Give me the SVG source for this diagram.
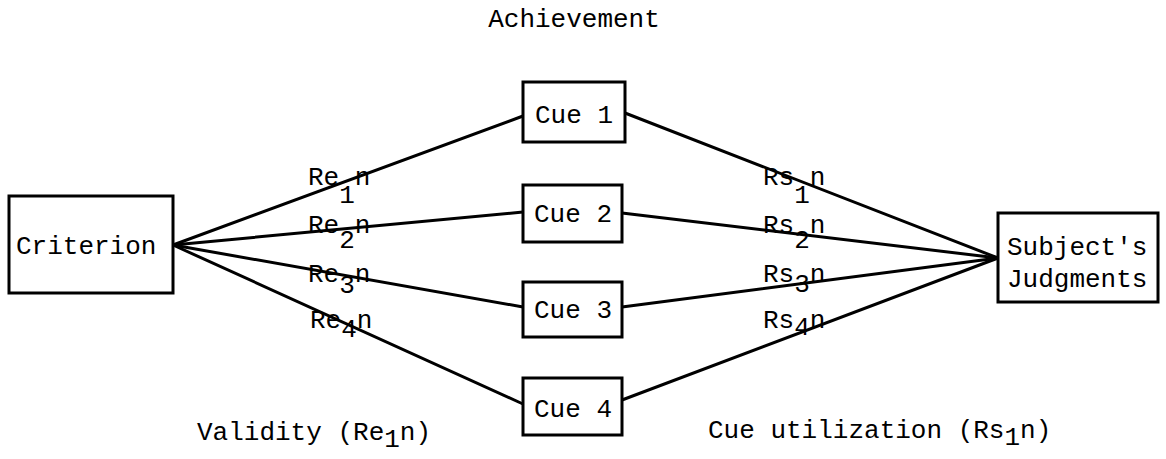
<svg xmlns="http://www.w3.org/2000/svg" width="1166" height="459" viewBox="0 0 1166 459">
  <style>
    .box { fill: #fff; stroke: #000; stroke-width: 3; }
    .edge { stroke: #000; stroke-width: 3; fill: none; stroke-linecap: round; }
    text { font-family: "Liberation Mono", "DejaVu Sans Mono", monospace; font-size: 26px; fill: #000; }
  </style>
  <rect width="1166" height="459" fill="#fff"/>

  <!-- connectors: criterion to cues, cues to judgments -->
  <g id="connectors">
    <line class="edge" x1="173" y1="245" x2="523" y2="116"/>
    <line class="edge" x1="173" y1="245" x2="523" y2="212"/>
    <line class="edge" x1="173" y1="245" x2="523" y2="307"/>
    <line class="edge" x1="173" y1="245" x2="523" y2="404"/>
    <line class="edge" x1="625" y1="113" x2="998" y2="258"/>
    <line class="edge" x1="622" y1="213" x2="998" y2="258"/>
    <line class="edge" x1="622" y1="307" x2="998" y2="258"/>
    <line class="edge" x1="622" y1="400" x2="998" y2="258"/>
  </g>

  <g id="criterion">
    <rect class="box" x="9" y="196" width="164" height="97"/>
    <text x="16" y="254">Criterion</text>
  </g>

  <g id="cue1">
    <rect class="box" x="523" y="82" width="102" height="60"/>
    <text x="574" y="123" text-anchor="middle">Cue 1</text>
  </g>
  <g id="cue2">
    <rect class="box" x="523" y="185" width="99" height="57"/>
    <text x="573" y="222" text-anchor="middle">Cue 2</text>
  </g>
  <g id="cue3">
    <rect class="box" x="523" y="282" width="99" height="55"/>
    <text x="573" y="318" text-anchor="middle">Cue 3</text>
  </g>
  <g id="cue4">
    <rect class="box" x="523" y="378" width="99" height="57"/>
    <text x="573" y="417" text-anchor="middle">Cue 4</text>
  </g>

  <g id="judgments">
    <rect class="box" x="998" y="213" width="160" height="89"/>
    <text x="1007" y="255">Subject's</text>
    <text x="1007" y="287">Judgments</text>
  </g>

  <!-- edge labels -->
  <g id="labels">
    <text x="308" y="185">Re<tspan dy="18">1</tspan><tspan dy="-18">n</tspan></text>
    <text x="308" y="233">Re<tspan dy="15">2</tspan><tspan dy="-15">n</tspan></text>
    <text x="308" y="282">Re<tspan dy="11">3</tspan><tspan dy="-11">n</tspan></text>
    <text x="310" y="328">Re<tspan dy="9">4</tspan><tspan dy="-9">n</tspan></text>
    <text x="763" y="185">Rs<tspan dy="18">1</tspan><tspan dy="-18">n</tspan></text>
    <text x="763" y="233">Rs<tspan dy="15">2</tspan><tspan dy="-15">n</tspan></text>
    <text x="763" y="282">Rs<tspan dy="10">3</tspan><tspan dy="-10">n</tspan></text>
    <text x="763" y="328">Rs<tspan dy="7">4</tspan><tspan dy="-7">n</tspan></text>
  </g>

  <g id="captions">
    <text x="574" y="27" text-anchor="middle">Achievement</text>
    <text x="197" y="440">Validity (Re<tspan dy="7">1</tspan><tspan dy="-7">n)</tspan></text>
    <text x="708" y="438">Cue utilization (Rs<tspan dy="7">1</tspan><tspan dy="-7">n)</tspan></text>
  </g>
</svg>
